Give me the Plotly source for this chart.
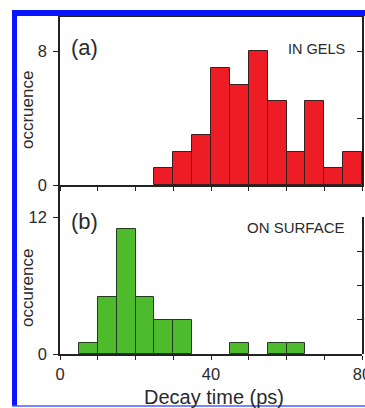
import plotly.graph_objects as go

# ---- data ----
gels_bin_start = [25, 30, 35, 40, 45, 50, 55, 60, 65, 70, 75]
gels_counts = [1, 2, 3, 7, 6, 8, 5, 2, 5, 1, 2]
surface_bin_start = [5, 10, 15, 20, 25, 30, 45, 55, 60]
surface_counts = [1, 5, 11, 5, 3, 3, 1, 1, 1]
bin_width = 5
x_ticks = [0, 10, 20, 30, 40, 50, 60, 70, 80]
x_ticktext = ["0", "", "", "", "40", "", "", "", "80"]

W, H = 365, 408
L, R, T, B = 60, 3, 17, 54
pw, ph = W - L - R, H - T - B
split = (354 - 185) / ph

def px(x):
    return (x - L) / pw

def py(y):
    return (H - B - y) / ph

FONT = "Liberation Sans, Arial, sans-serif"
TXT = "#2a2a2a"
LINE = "#222222"

fig = go.Figure()
fig.add_trace(go.Bar(x=gels_bin_start, y=gels_counts, width=bin_width, offset=0,
                     marker=dict(color="#ee1c24", line=dict(color="#3a2020", width=1)),
                     xaxis="x", yaxis="y", showlegend=False))
fig.add_trace(go.Bar(x=surface_bin_start, y=surface_counts, width=bin_width, offset=0,
                     marker=dict(color="#4dbb2c", line=dict(color="#253a20", width=1)),
                     xaxis="x2", yaxis="y2", showlegend=False))
# empty carriers for the inward right-side tick axes
fig.add_trace(go.Scatter(x=[None], y=[None], xaxis="x", yaxis="y3", showlegend=False, hoverinfo="skip"))
fig.add_trace(go.Scatter(x=[None], y=[None], xaxis="x2", yaxis="y4", showlegend=False, hoverinfo="skip"))

common_x = dict(range=[0, 80], tickvals=x_ticks, ticks="outside", ticklen=4, tickwidth=1.3,
                tickcolor=LINE, showline=True, linecolor=LINE, linewidth=1.5,
                showgrid=False, zeroline=False, automargin=False, ticklabeloverflow="allow",
                tickfont=dict(family=FONT, size=16.5, color=TXT))
common_y = dict(ticks="outside", ticklen=5, tickwidth=1.3, tickcolor=LINE,
                showline=True, linecolor=LINE, linewidth=1.5,
                showgrid=False, zeroline=False, automargin=False, ticklabelstandoff=3,
                tickfont=dict(family=FONT, size=16.5, color=TXT))

fig.update_layout(
    width=W, height=H,
    margin=dict(l=L, r=R, t=T, b=B, autoexpand=False),
    paper_bgcolor="white", plot_bgcolor="rgba(0,0,0,0)",
    bargap=0,
    font=dict(family=FONT, color=TXT),
    xaxis=dict(common_x, anchor="y", showticklabels=False, mirror=True),
    xaxis2=dict(common_x, anchor="y2", ticktext=x_ticktext),
    yaxis=dict(common_y, domain=[split, 1], range=[0, 10.03], tickvals=[0, 8], ticktext=["0", "8"],
               mirror=True, anchor="x"),
    yaxis3=dict(overlaying="y", side="right", anchor="x", range=[0, 10.03], tickvals=[4, 8],
                ticks="inside", ticklen=5, tickwidth=1.3, tickcolor=LINE, automargin=False,
                showticklabels=False, showline=False, showgrid=False, zeroline=False),
    yaxis2=dict(common_y, domain=[0, split], range=[0, 14.85], tickvals=[0, 12], ticktext=["0", "12"],
                anchor="x2"),
    yaxis4=dict(domain=[0, split * 12 / 14.85], range=[0, 12], side="right", anchor="x2",
                tickvals=[3, 6, 9, 12], ticks="inside", ticklen=5, tickwidth=1.3, tickcolor=LINE,
                showticklabels=False, showline=True, linecolor=LINE, linewidth=1.5, automargin=False,
                showgrid=False, zeroline=False),
    annotations=[
        dict(text="(a)", x=px(69), y=py(48), xref="paper", yref="paper", xanchor="left", yanchor="middle",
             showarrow=False, font=dict(family=FONT, size=22, color=TXT)),
        dict(text="IN GELS", x=px(347), y=py(49), xref="paper", yref="paper", xanchor="right", yanchor="middle",
             showarrow=False, font=dict(family=FONT, size=14.5, color=TXT)),
        dict(text="(b)", x=px(69), y=py(221), xref="paper", yref="paper", xanchor="left", yanchor="middle",
             showarrow=False, font=dict(family=FONT, size=22, color=TXT)),
        dict(text="ON SURFACE", x=px(347), y=py(227), xref="paper", yref="paper", xanchor="right", yanchor="middle",
             showarrow=False, font=dict(family=FONT, size=15, color=TXT)),
        dict(text="occruence", x=px(27), y=py(110), xref="paper", yref="paper", xanchor="center", yanchor="middle",
             textangle=-90, showarrow=False, font=dict(family=FONT, size=17, color=TXT)),
        dict(text="occurence", x=px(27), y=py(288), xref="paper", yref="paper", xanchor="center", yanchor="middle",
             textangle=-90, showarrow=False, font=dict(family=FONT, size=17, color=TXT)),
        dict(text="Decay time (ps)", x=px(214), y=py(397), xref="paper", yref="paper", xanchor="center", yanchor="middle",
             showarrow=False, font=dict(family=FONT, size=20, color=TXT)),
    ],
    shapes=[
        dict(type="rect", xref="paper", yref="paper", x0=px(12), x1=px(17), y0=py(406), y1=py(10),
             fillcolor="#0a14ff", line=dict(width=0), layer="above"),
        dict(type="rect", xref="paper", yref="paper", x0=px(12), x1=px(366), y0=py(16), y1=py(10),
             fillcolor="#0a14ff", line=dict(width=0), layer="above"),
        dict(type="line", xref="paper", yref="paper", x0=px(12), x1=px(366), y0=py(406), y1=py(406),
             line=dict(color="#4a5cff", width=1.5), layer="above"),
    ],
)

fig.write_html("out.html", config={"displayModeBar": False},
               post_script="document.body.style.margin='0';document.body.style.overflow='hidden';")
